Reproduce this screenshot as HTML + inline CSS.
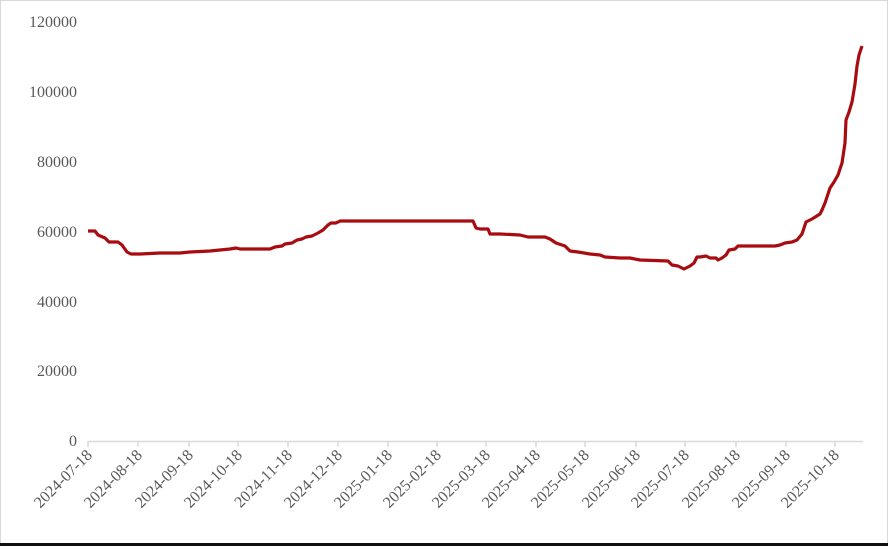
<!DOCTYPE html>
<html><head><style>
html,body{margin:0;padding:0;background:#fff}
body{width:888px;height:546px;overflow:hidden}
text{font-family:"Liberation Serif","Noto Serif CJK SC",serif;font-size:16px;fill:#595959}
</style></head><body>
<svg width="888" height="546" viewBox="0 0 888 546" xmlns="http://www.w3.org/2000/svg">
<rect x="0.5" y="0.5" width="887" height="544" fill="#fff" stroke="#d9d9d9"/>
<rect x="0" y="543" width="888" height="3" fill="#111"/>
<g text-anchor="end">
<text x="77" y="446">0</text>
<text x="77" y="376">20000</text>
<text x="77" y="307">40000</text>
<text x="77" y="237">60000</text>
<text x="77" y="167">80000</text>
<text x="77" y="97">100000</text>
<text x="77" y="27">120000</text>
</g>
<g stroke="#d9d9d9" stroke-width="1.5">
<line x1="88" y1="441.5" x2="863" y2="441.5"/>
<line x1="88" y1="441" x2="88" y2="447"/><line x1="138" y1="441" x2="138" y2="447"/><line x1="189" y1="441" x2="189" y2="447"/><line x1="238" y1="441" x2="238" y2="447"/><line x1="288" y1="441" x2="288" y2="447"/><line x1="338" y1="441" x2="338" y2="447"/><line x1="388" y1="441" x2="388" y2="447"/><line x1="437" y1="441" x2="437" y2="447"/><line x1="486" y1="441" x2="486" y2="447"/><line x1="536" y1="441" x2="536" y2="447"/><line x1="585" y1="441" x2="585" y2="447"/><line x1="636" y1="441" x2="636" y2="447"/><line x1="685" y1="441" x2="685" y2="447"/><line x1="736" y1="441" x2="736" y2="447"/><line x1="786" y1="441" x2="786" y2="447"/><line x1="835" y1="441" x2="835" y2="447"/>
</g>
<g text-anchor="end">
<text transform="translate(93,456) rotate(-45)">2024-07-18</text>
<text transform="translate(143,456) rotate(-45)">2024-08-18</text>
<text transform="translate(194,456) rotate(-45)">2024-09-18</text>
<text transform="translate(243,456) rotate(-45)">2024-10-18</text>
<text transform="translate(293,456) rotate(-45)">2024-11-18</text>
<text transform="translate(343,456) rotate(-45)">2024-12-18</text>
<text transform="translate(393,456) rotate(-45)">2025-01-18</text>
<text transform="translate(442,456) rotate(-45)">2025-02-18</text>
<text transform="translate(491,456) rotate(-45)">2025-03-18</text>
<text transform="translate(541,456) rotate(-45)">2025-04-18</text>
<text transform="translate(590,456) rotate(-45)">2025-05-18</text>
<text transform="translate(641,456) rotate(-45)">2025-06-18</text>
<text transform="translate(690,456) rotate(-45)">2025-07-18</text>
<text transform="translate(741,456) rotate(-45)">2025-08-18</text>
<text transform="translate(791,456) rotate(-45)">2025-09-18</text>
<text transform="translate(840,456) rotate(-45)">2025-10-18</text>
</g>
<polyline fill="none" stroke="#a80c10" stroke-width="3.2" stroke-linejoin="round" points="88,231 95,231 98,235 105,238 109,242 118,242 122,245 127,252 131,254 140,254 160,253 180,253 190,252 210,251 230,249 236,248 240,249 270,249 275,247 282,246 285,244 292,243 297,240 302,239 306,237 312,236 318,233 323,230 328,225 331,223 336,223 340,221 470,221 473,221 476,228 480,229 488,229 490,234 500,234 520,235 528,237 545,237 550,239 556,243 565,246 570,251 578,252 590,254 600,255 605,257 620,258 630,258 640,260 668,261 672,265 678,266 684,269 690,266 694,263 697,257 700,257 706,256 710,258 716,258 718,260 722,258 726,255 729,250 735,249 738,246 762,246 768,246 775,246 780,245 785,243 792,242 797,240 802,234 806,222 812,219 820,214 822,210 825,203 827,197 830,188 834,182 838,175 842,163 845,143 846,120 849,112 852,102 855,84 857,66 859,55 862,46"/>
</svg>
</body></html>
